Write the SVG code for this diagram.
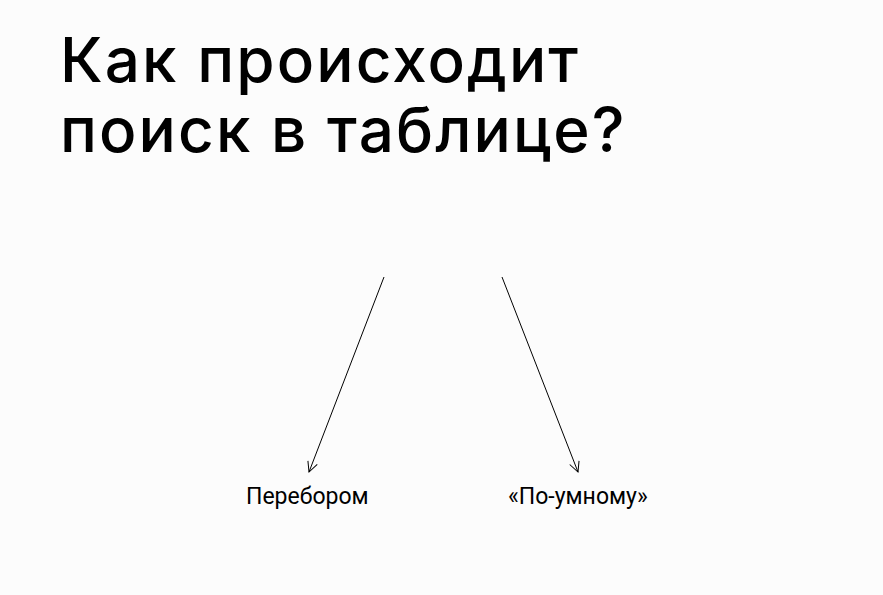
<svg xmlns="http://www.w3.org/2000/svg" width="883" height="595" viewBox="0 0 883 595">
<style>
.title{font-family:Inter,Roboto,"Liberation Sans",sans-serif;font-size:62px;font-weight:550;letter-spacing:2.1px;fill:#000}
.lbl{font-family:Roboto,"Liberation Sans",sans-serif;font-size:23px;fill:#000}
.edge{stroke:#000;stroke-width:1;fill:none;marker-end:url(#arr)}
</style>
<defs>
<marker id="arr" viewBox="0 0 12 12" refX="11" refY="6" markerWidth="12" markerHeight="12" markerUnits="userSpaceOnUse" orient="auto">
<path d="M1,1 L11,6 L1,11" fill="none" stroke="#000" stroke-width="1"/>
</marker>
</defs>
<rect width="883" height="595" fill="#fcfcfc"/>
<g id="title">
<text class="title" x="60" y="82">Как происходит</text>
<text class="title" x="60" y="152">поиск в таблице?</text>
</g>
<g id="connectors">
<line class="edge" x1="384" y1="277" x2="309" y2="472"/>
<line class="edge" x1="502" y1="277" x2="578" y2="472"/>
</g>
<g id="node-perebor">
<text class="lbl" x="246" y="504">Перебором</text>
</g>
<g id="node-umnomu">
<text class="lbl" x="508" y="504">«По-умному»</text>
</g>
</svg>
